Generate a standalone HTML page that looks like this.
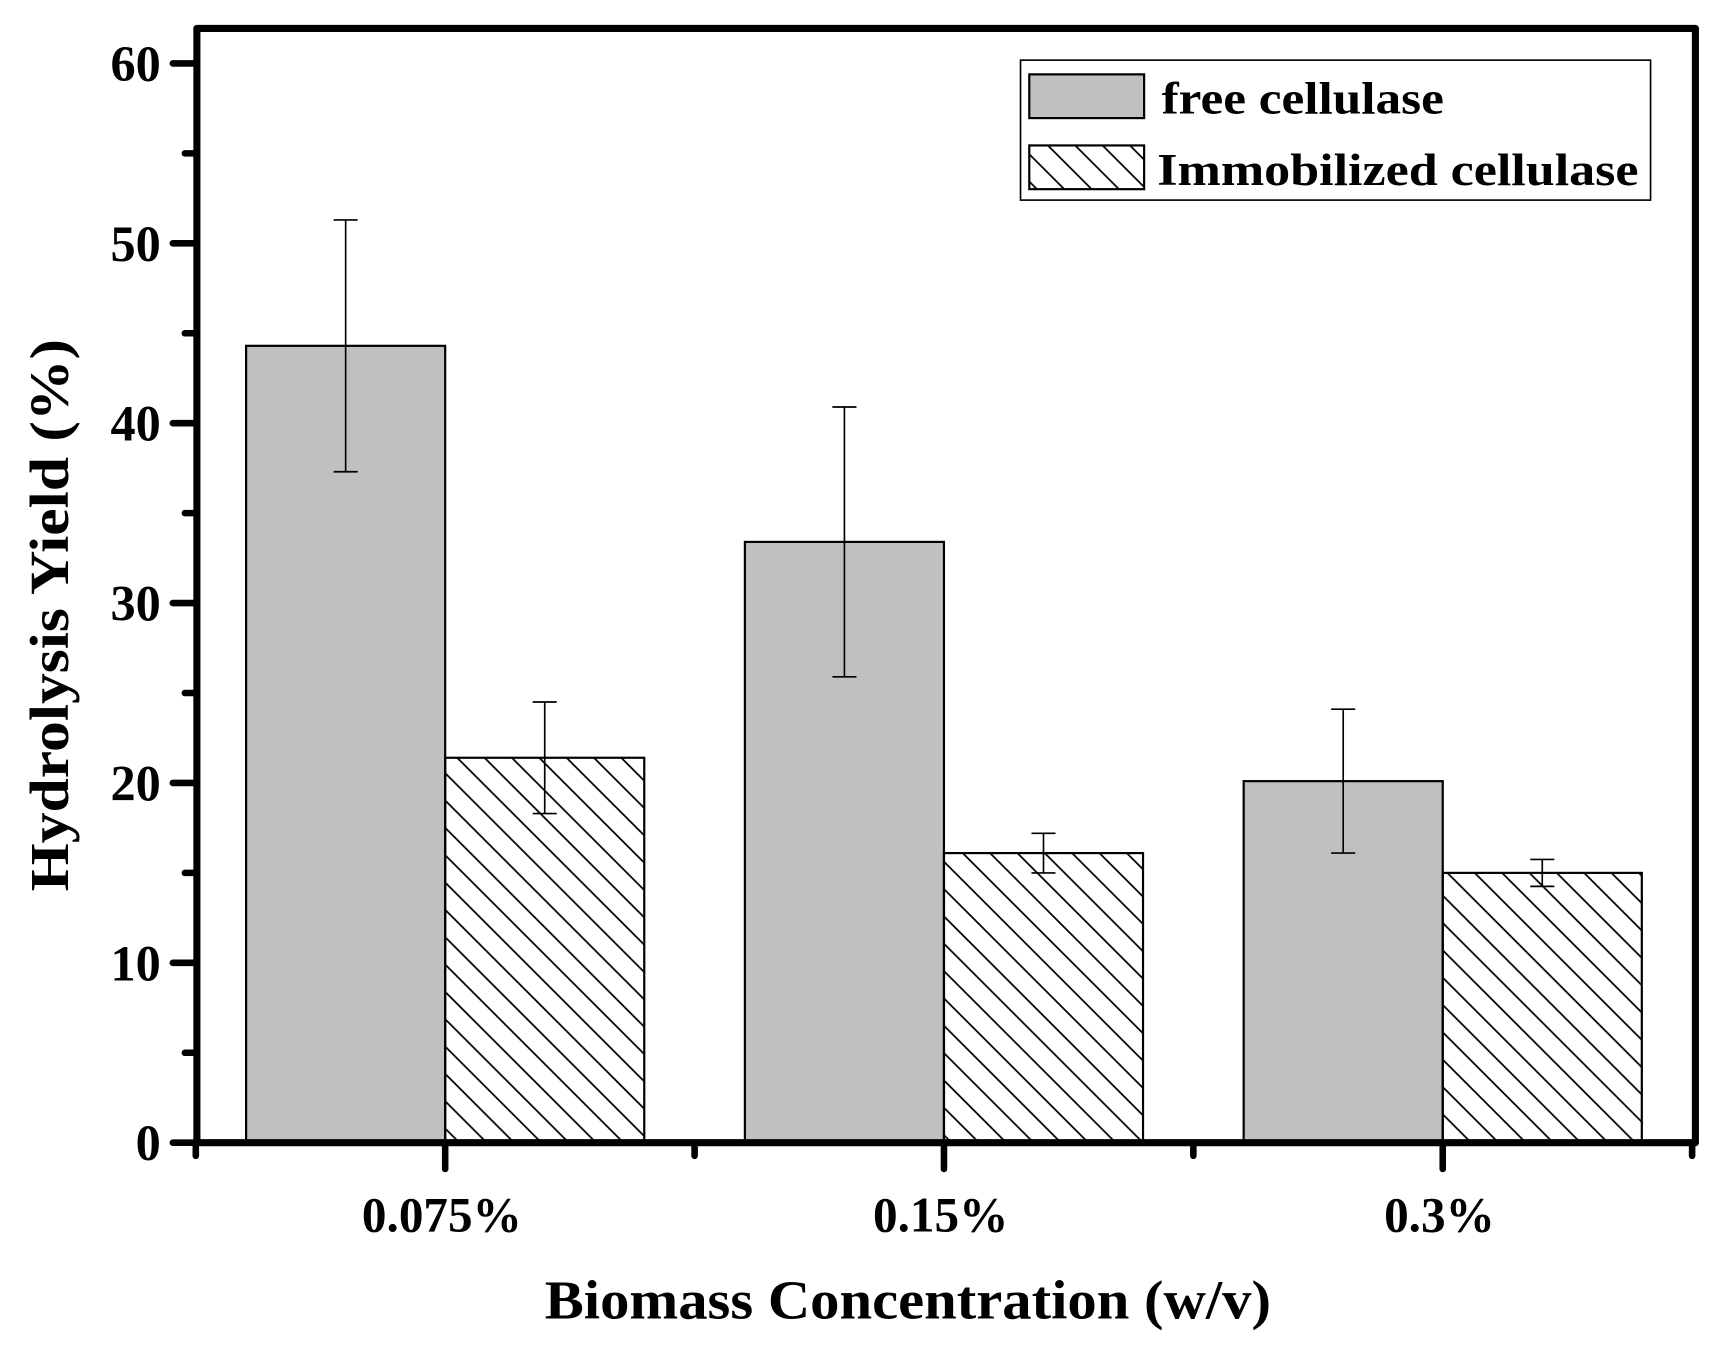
<!DOCTYPE html>
<html><head><meta charset="utf-8"><style>
html,body{margin:0;padding:0;background:#fff}
svg{display:block}
text{font-family:"Liberation Serif",serif;font-weight:bold;fill:#000}
</style></head><body>
<svg id="chart" width="1714" height="1345" viewBox="0 0 1567 1230" preserveAspectRatio="none" xmlns="http://www.w3.org/2000/svg">
<defs>
<pattern id="hatch" patternUnits="userSpaceOnUse" width="25" height="25">
<path d="M-5,-5 L30,30 M-30,-5 L5,30 M20,-5 L55,30" stroke="#000" stroke-width="1.6"/>
</pattern>
</defs>
<g id="bars"></g>
<g id="axes"></g>
<g>
<rect x="933" y="55" width="576" height="128" fill="#fff" stroke="#000" stroke-width="1.5"/>
<rect x="941" y="68" width="105" height="40" fill="#c0c0c0" stroke="#000" stroke-width="2"/>
<text x="1062" y="104" font-size="42" textLength="258" lengthAdjust="spacingAndGlyphs">free cellulase</text>
<rect x="941" y="133" width="105" height="40" fill="url(#hatch)" stroke="#000" stroke-width="2"/>
<text x="1058" y="169" font-size="42" textLength="440" lengthAdjust="spacingAndGlyphs">Immobilized cellulase</text>
</g>
<text x="498" y="1206" font-size="50" textLength="664" lengthAdjust="spacingAndGlyphs">Biomass Concentration (w/v)</text>
<text transform="translate(62,815) rotate(-90)" font-size="50" textLength="505" lengthAdjust="spacingAndGlyphs">Hydrolysis Yield (%)</text>
</svg>
<script>
const categories = ["0.075%", "0.15%", "0.3%"];
const freeValues = [44.3, 33.4, 20.1];
const freeErrors = [7.0, 7.5, 4.0];
const immobValues = [21.4, 16.1, 15.0];
const immobErrors = [3.1, 1.1, 0.75];
const yTicks = [0, 10, 20, 30, 40, 50, 60];

const NS = "http://www.w3.org/2000/svg";
const L = 180, R = 1550, T = 26, B = 1045;
const yMin = 0, yMax = 60;
const y = v => B - (v - yMin) / (yMax - yMin) * (B - 58);
const groupW = 456;
const xc = i => 407 + groupW * i;
const barW = 182;
function mk(tag, attrs, parent) {
  const e = document.createElementNS(NS, tag);
  for (const k in attrs) e.setAttribute(k, attrs[k]);
  parent.appendChild(e);
  return e;
}
const bars = document.getElementById('bars');
const axes = document.getElementById('axes');
function errBar(cx, v, err, name) {
  const g = mk('g', {stroke: '#000', 'stroke-width': 1.5}, bars);
  
  
  mk('line', {x1: cx, x2: cx, y1: y(v + err), y2: y(v - err)}, g);
  mk('line', {x1: cx - 11, x2: cx + 11, y1: y(v + err), y2: y(v + err)}, g);
  mk('line', {x1: cx - 11, x2: cx + 11, y1: y(v - err), y2: y(v - err)}, g);
}
categories.forEach((c, i) => {
  const cx = xc(i);
  const b1 = mk('rect', {x: cx - barW, y: y(freeValues[i]), width: barW, height: y(0) - y(freeValues[i]), fill: '#c0c0c0', stroke: '#000', 'stroke-width': 2}, bars);
  
  
  const b2 = mk('rect', {x: cx, y: y(immobValues[i]), width: barW, height: y(0) - y(immobValues[i]), fill: 'url(#hatch)', stroke: '#000', 'stroke-width': 2}, bars);
  
  
  errBar(cx - barW / 2, freeValues[i], freeErrors[i], 'error-bar-free-' + i);
  errBar(cx + barW / 2, immobValues[i], immobErrors[i], 'error-bar-immobilized-' + i);
  const t = mk('text', {x: cx - 3, y: 1126, 'font-size': 45, 'text-anchor': 'middle'}, axes);
  t.textContent = c;
  
  
  mk('line', {x1: cx, x2: cx, y1: B, y2: B + 24, stroke: '#000', 'stroke-width': 6, 'stroke-linecap': 'round'}, axes);
});
for (let i = 0; i <= categories.length; i++) {
  const x = Math.min(407 - groupW / 2 + groupW * i, 1548);
  mk('line', {x1: x, x2: x, y1: B, y2: B + 12, stroke: '#000', 'stroke-width': 6, 'stroke-linecap': 'round'}, axes);
}
yTicks.forEach((v, i) => {
  mk('line', {x1: L - 22, x2: L, y1: y(v), y2: y(v), stroke: '#000', 'stroke-width': 6, 'stroke-linecap': 'round'}, axes);
  if (i < yTicks.length - 1) {
    const m = (v + yTicks[i + 1]) / 2;
    mk('line', {x1: L - 11, x2: L, y1: y(m), y2: y(m), stroke: '#000', 'stroke-width': 6, 'stroke-linecap': 'round'}, axes);
  }
  const t = mk('text', {x: L - 33, y: y(v) + 16, 'font-size': 46, 'text-anchor': 'end'}, axes);
  t.textContent = v;
  
  
});
const frame = mk('rect', {x: L, y: T, width: R - L, height: B - T, fill: 'none', stroke: '#000', 'stroke-width': 6.5, 'stroke-linejoin': 'round'}, axes);


</script>
</body></html>
